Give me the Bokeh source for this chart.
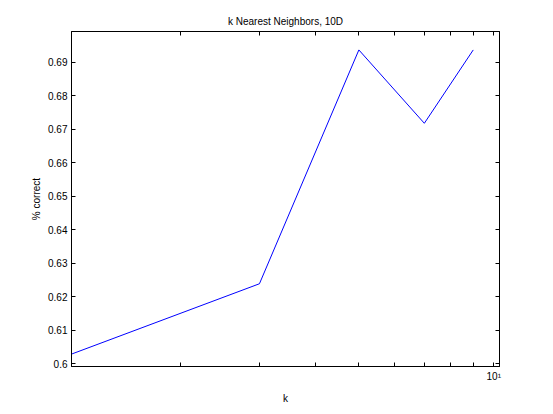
from bokeh.plotting import figure
from bokeh.models import Range1d, FixedTicker, LogAxis, LinearAxis
from bokeh.embed import file_html
from bokeh.resources import INLINE

# data
k_values = [1.142, 3, 5, 7, 9]
pct_correct = [0.6029, 0.6239, 0.6937, 0.6718, 0.6937]
x_ticks = [2, 3, 4, 5, 6, 7, 8, 9, 10]
x_tick_labels = {10: "10\u00b9"}
y_ticks = [0.6, 0.61, 0.62, 0.63, 0.64, 0.65, 0.66, 0.67, 0.68, 0.69]
y_tick_labels = ["0.6", "0.61", "0.62", "0.63", "0.64", "0.65", "0.66", "0.67", "0.68", "0.69"]

FONT = "Liberation Sans"
FS = "10px"

p = figure(width=545, height=406, output_backend="svg", toolbar_location=None,
           x_axis_type="log",
           x_range=Range1d(1.142, 10.30), y_range=Range1d(0.5992, 0.6992),
           title="k Nearest Neighbors, 10D",
           min_border_left=71, min_border_right=46, min_border_top=31, min_border_bottom=38)

p.line(k_values, pct_correct, line_color="#0000ff", line_width=1)

p.grid.visible = False
p.outline_line_color = "black"
p.outline_line_width = 1
p.background_fill_color = "white"
p.border_fill_color = "white"

p.title.align = "center"
p.title.text_font = FONT
p.title.text_font_size = FS
p.title.text_font_style = "normal"
p.title.text_color = "black"
p.title.offset = 0

xlabels = {t: "" for t in x_ticks}
xlabels.update(x_tick_labels)
ylabels = {t: l for t, l in zip(y_ticks, y_tick_labels)}

def style(ax):
    ax.axis_line_color = "black"
    ax.major_tick_in = 4
    ax.major_tick_out = 0
    ax.minor_tick_in = 0
    ax.minor_tick_out = 0
    ax.major_tick_line_color = "black"
    ax.major_label_text_font = FONT
    ax.major_label_text_font_size = FS
    ax.major_label_text_color = "black"
    ax.axis_label_text_font = FONT
    ax.axis_label_text_font_size = FS
    ax.axis_label_text_font_style = "normal"
    ax.axis_label_text_color = "black"

xa = p.xaxis[0]
xa.ticker = FixedTicker(ticks=x_ticks)
xa.major_label_overrides = xlabels
xa.axis_label = "k"
xa.major_label_standoff = 4
xa.axis_label_standoff = 8
style(xa)

ya = p.yaxis[0]
ya.ticker = FixedTicker(ticks=y_ticks)
ya.major_label_overrides = ylabels
ya.axis_label = "% correct"
ya.major_label_standoff = 4
ya.axis_label_standoff = 3
style(ya)

top = LogAxis(ticker=FixedTicker(ticks=x_ticks))
style(top)
top.major_label_overrides = {t: "" for t in x_ticks}
top.major_label_standoff = 0
p.add_layout(top, "above")

right = LinearAxis(ticker=FixedTicker(ticks=y_ticks))
style(right)
right.major_label_overrides = {t: "" for t in y_ticks}
right.major_label_standoff = 0
p.add_layout(right, "right")

open("out.html", "w").write(file_html(p, INLINE))
